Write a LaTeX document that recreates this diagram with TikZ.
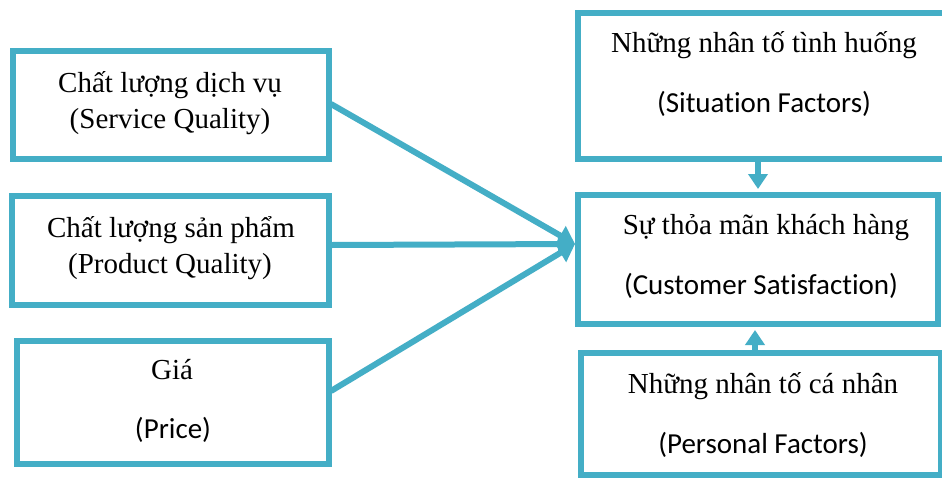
\documentclass[tikz,border=0pt]{standalone}
\usepackage{fontspec}
\setmainfont{Liberation Serif}
\newfontfamily\carlito[Ligatures={NoCommon}]{Carlito}
\usetikzlibrary{arrows.meta}
\definecolor{teal1}{RGB}{68,174,198}
\begin{document}
\begin{tikzpicture}[x=1pt,y=-1pt,
  box/.style={draw=teal1, line width=6pt, fill=white, inner sep=0pt, rectangle},
  conn/.style={draw=teal1, line width=6pt, -{Triangle[length=17pt,width=21pt]}},
  vconn/.style={draw=teal1, line width=6pt, -{Triangle[length=15pt,width=19pt]}},
  txt/.style={anchor=base, inner sep=0pt, font=\fontsize{29}{34}\selectfont},
  stxt/.style={anchor=base, inner sep=0pt, font=\fontsize{29}{34}\selectfont\carlito}]
\useasboundingbox (0,0) rectangle (942,480);
\clip (0,0) rectangle (942,480);
\fill[white] (0,0) rectangle (942,480);
% left boxes
\node[box, minimum width=316pt, minimum height=108pt] (sq) at (171,105) {};
\node[box, minimum width=317pt, minimum height=109pt] (pq) at (170.5,250.5) {};
\node[box, minimum width=312pt, minimum height=123pt] (pr) at (173,402.5) {};
% right boxes
\node[box, minimum width=369pt, minimum height=146pt] (sit) at (762.5,86) {};
\node[box, minimum width=360pt, minimum height=129pt] (cs) at (758,259.5) {};
\node[box, minimum width=360pt, minimum height=122pt] (pers) at (761,414) {};
% texts
\node[txt] (t1) at (170,92) {Chất lượng dịch vụ};
\node[txt] (t2) at (170,128) {(Service Quality)};
\node[txt] (t3) at (171,237) {Chất lượng sản phẩm};
\node[txt] (t4) at (170,273) {(Product Quality)};
\node[txt] (t5) at (172,379) {Giá};
\node[stxt] (t6) at (173,438) {(Price)};
\node[txt] (t7) at (764,52) {Những nhân tố tình huống};
\node[stxt] (t8) at (764,112) {(Situation Factors)};
\node[txt] (t9) at (766,234) {Sự thỏa mãn khách hàng};
\node[stxt] (t10) at (761,294) {(Customer Satisfaction)};
\node[txt] (t11) at (763,393) {Những nhân tố cá nhân};
\node[stxt] (t12) at (763,453) {(Personal Factors)};
% connectors
\coordinate (tip) at (575,244);
\draw[conn] ([xshift=-1pt,yshift=1pt]sq.east) -- (tip);
\draw[conn] ([xshift=-1pt,yshift=5.5pt]pq.east) -- (tip);
\draw[conn] ([xshift=-1pt,yshift=11.5pt]pr.east) -- (tip);
\coordinate (ax1) at (758,0);
\coordinate (ax2) at (755,0);
\draw[vconn] (sit.south -| ax1) -- ([yshift=3pt]cs.north -| ax1);
\draw[vconn] (pers.north -| ax2) -- ([yshift=-3pt]cs.south -| ax2);
\end{tikzpicture}
\end{document}
